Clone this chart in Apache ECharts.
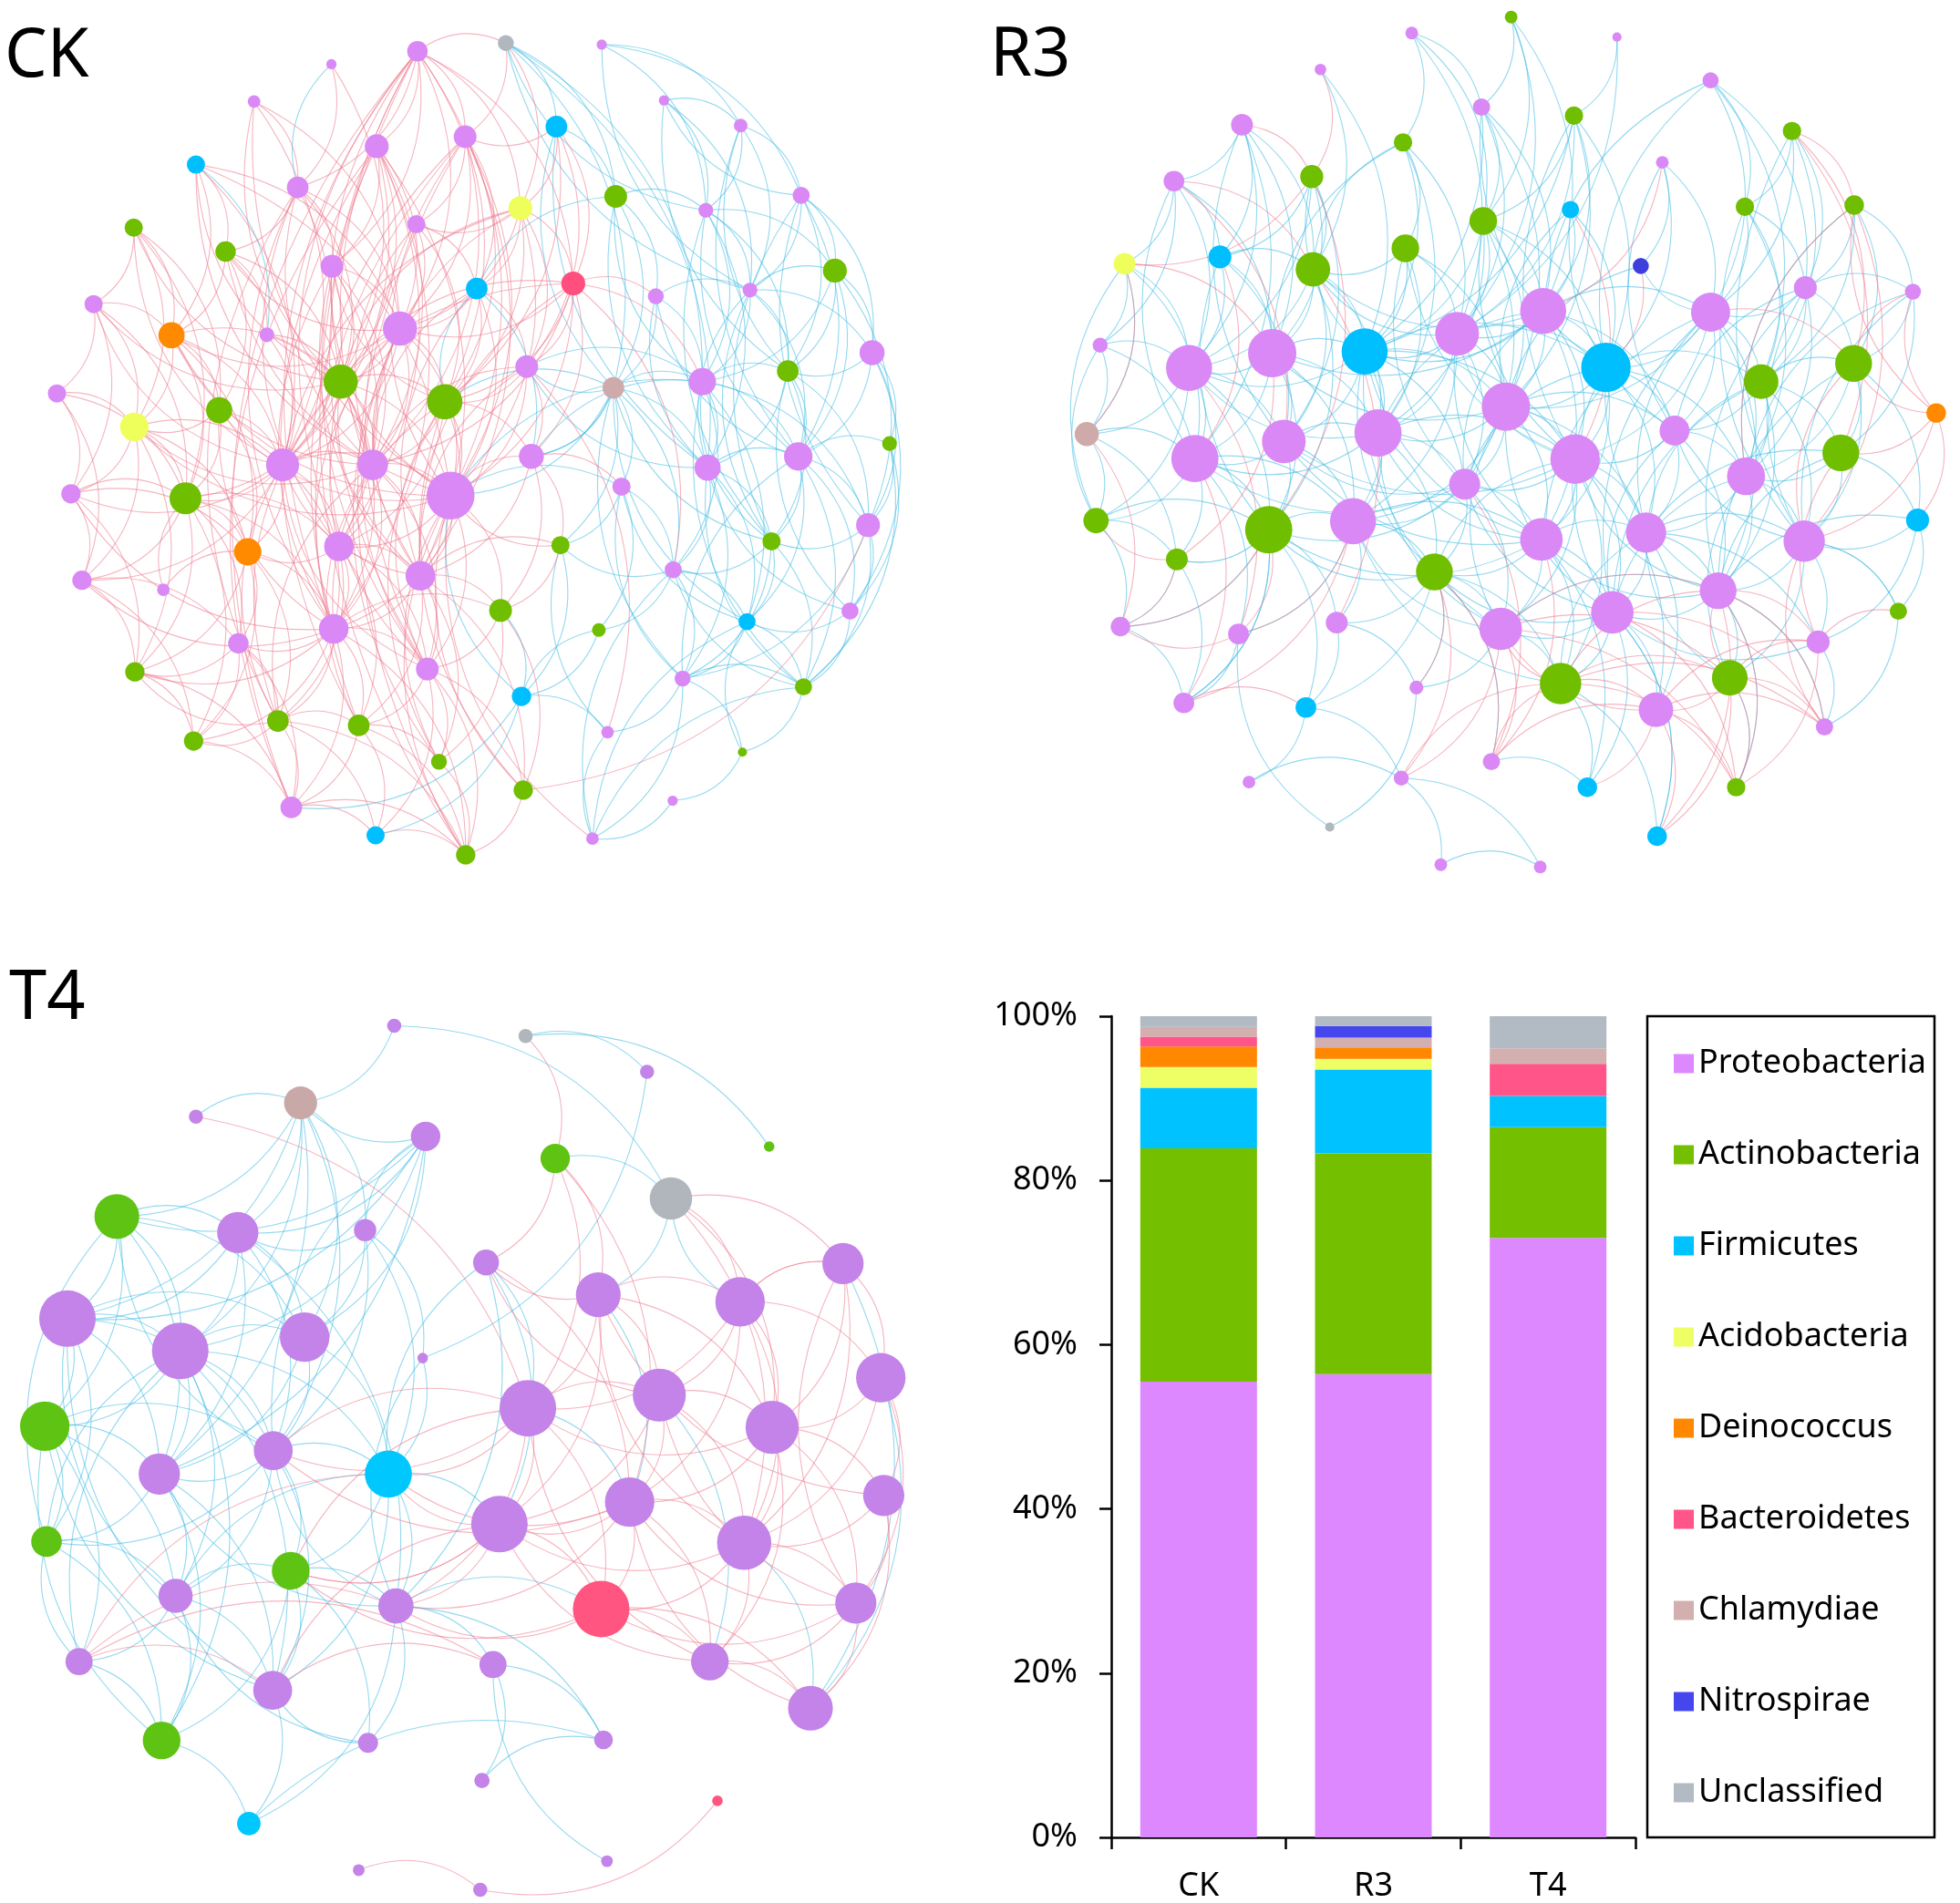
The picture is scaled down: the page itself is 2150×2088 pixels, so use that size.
<!DOCTYPE html>
<html>
<head>
<meta charset="utf-8">
<script src="https://cdn.jsdelivr.net/npm/echarts@6/dist/echarts.min.js"></script>
<style>
html,body{margin:0;padding:0;background:#fff;}
#chart{width:2150px;height:2088px;}
</style>
</head>
<body>
<div id="chart"></div>
<script>
// ---------------- Bar chart data ----------------
const categories = ['CK', 'R3', 'T4'];
const phyla = ['Proteobacteria','Actinobacteria','Firmicutes','Acidobacteria','Deinococcus','Bacteroidetes','Chlamydiae','Nitrospirae','Unclassified'];
const proteobacteria = [55.5, 56.4, 73.0];
const actinobacteria = [28.4, 26.9, 13.5];
const firmicutes     = [7.4, 10.2, 3.8];
const acidobacteria  = [2.5, 1.3, 0];
const deinococcus    = [2.5, 1.4, 0];
const bacteroidetes  = [1.2, 0, 3.9];
const chlamydiae     = [1.2, 1.2, 1.9];
const nitrospirae    = [0, 1.4, 0];
const unclassified   = [1.3, 1.2, 3.9];
const yTicks = [0, 20, 40, 60, 80, 100];

// ---------------- Network CK (layout coordinates) ----------------
const ckX = [718,870,570,1035,437,1142,957,648,800,1274,337,512,1059,895,716,1214,1378,230,388,571,820,986,1128,1290,1436,161,295,459,688,906,1500,586,765,1055,1208,1355,98,377,231,486,641,775,914,1217,1373,1530,122,319,1069,1493,583,426,964,1327,141,281,723,1158,861,1030,1462,574,410,1285,232,735,1174,1382,897,478,617,333,1045,755,1277,900,501,1157,646,1019,801];
const ckY = [92,77,115,80,182,180,227,262,245,225,295,336,352,373,402,377,350,408,451,477,517,508,531,520,485,545,601,600,589,657,632,684,720,695,684,665,705,735,765,833,833,888,818,838,818,795,885,893,872,941,979,989,977,970,1040,1057,1032,1021,1094,1129,1095,1127,1153,1114,1204,1199,1216,1231,1248,1292,1300,1328,1312,1365,1348,1416,1447,1435,1497,1503,1532];
const ckDegree = [18,14,9,9,11,9,19,21,20,12,16,19,20,21,16,13,15,16,18,20,19,21,14,13,21,16,23,13,30,20,22,30,31,19,24,19,16,23,25,29,27,42,22,23,25,13,17,28,16,21,26,24,16,16,17,11,26,15,20,12,15,26,18,15,17,20,14,15,17,19,19,17,11,14,8,17,19,9,16,11,17];
const ckPhylum = 'PUPPPPFPPPFPAYPPPAAPFBPPAPDPPPPAACPAPAYPPPPPPAPAPPPDAAPPPPAAPPPFAPPAFAAAPAAAPPFPA'.split('');
const ckPositive = '1-8 1-9 1-12 1-20 1-29 1-33 1-42 1-22 1-14 1-2 2-9 2-14 3-12 3-32 5-12 5-29 5-40 7-14 7-22 7-30 7-9 7-33 8-20 8-29 8-32 8-41 8-40 8-62 8-57 8-51 9-15 9-21 9-29 9-33 9-42 9-41 9-57 11-19 11-27 11-40 11-29 11-42 12-20 12-29 12-40 12-32 12-19 14-21 14-22 14-29 14-33 14-42 14-30 14-15 15-21 15-29 15-33 18-26 18-27 18-39 18-38 18-48 19-27 19-38 19-40 19-28 19-32 20-29 20-32 20-40 20-41 20-51 21-29 21-33 21-42 21-30 22-29 22-30 22-33 22-42 22-43 22-41 22-35 22-58 22-23 26-27 26-37 26-39 26-48 26-47 27-38 27-39 27-40 27-48 27-32 27-52 28-40 28-32 28-41 29-32 29-33 29-41 29-42 29-40 30-33 30-42 30-43 32-40 32-41 32-42 32-33 32-51 32-48 32-62 33-41 33-42 33-43 33-57 33-51 37-39 37-47 37-48 37-55 38-40 38-48 38-39 38-52 39-48 39-47 39-55 39-40 39-52 39-65 40-41 40-48 40-51 40-52 40-62 40-42 41-42 41-51 41-57 41-62 41-66 42-57 42-43 42-51 42-62 42-66 42-59 43-57 43-59 43-53 47-48 47-55 47-65 47-52 48-52 48-55 48-62 48-63 48-65 48-72 48-51 51-62 51-57 51-52 51-66 51-70 51-71 52-62 52-63 52-65 52-72 52-70 55-65 55-72 55-63 56-52 56-48 57-62 57-66 57-59 57-74 57-76 57-71 59-66 59-76 59-74 62-63 62-70 62-71 62-77 62-66 62-81 63-65 63-72 63-70 63-77 65-72 65-77 66-71 66-74 66-81 66-76 66-79 70-77 70-79 70-71 70-81 71-79 71-81 71-74 71-77 72-77 74-81 76-81 77-79 77-81 79-81 53-59 53-42 30-73 43-49 80-42 50-76 ' +
  '41-1 51-1 57-1 62-1 66-1 77-1 81-1 66-8 71-8 77-8 62-9 66-9 71-9 81-9 41-12 51-12 62-12 70-12 62-20 57-20 42-20 33-20 51-29 57-29 62-29 66-29 74-29 57-32 66-32 70-32 62-33 66-33 74-33 76-33 57-40 66-40 70-40 70-41 71-41 74-42 76-42 81-42 41-27 42-27 29-27 40-26 32-26 40-18 32-18 29-19 42-19 41-39 42-39 42-38 62-38 40-47 62-47 40-55 62-55 62-65 70-65 62-72 70-72 41-14 40-14 32-14 32-22 40-22 57-22 57-30 41-30 32-11 41-11 32-5 42-5 42-15 41-15 41-21 57-21 57-53 62-59';
const ckNegative = '2-35 2-44 2-34 2-13 2-7 4-10 4-17 4-16 6-10 6-24 6-16 10-17 10-16 10-24 13-34 13-16 13-23 16-24 16-35 16-44 16-36 16-25 17-25 17-24 17-31 17-36 17-45 23-34 23-35 23-24 24-36 24-35 24-25 24-31 24-45 25-31 25-36 25-45 25-50 25-35 31-46 31-50 31-45 31-36 31-61 34-35 34-44 34-49 34-30 34-43 34-58 34-53 34-42 35-36 35-44 35-45 35-58 35-64 35-50 36-45 36-44 36-50 36-54 44-45 44-58 44-64 44-54 44-67 45-50 45-54 45-61 45-64 45-68 45-46 46-50 46-61 46-68 49-58 49-60 49-53 50-54 50-61 50-68 50-67 54-58 54-64 54-68 54-67 58-67 58-64 61-68 61-64 64-67 64-68 67-68 67-75 67-80 68-75 75-78 78-80 80-68 69-79 69-73 69-77 69-60 69-42 21-43 21-13 7-13 12-3 11-28 42-49 42-35 33-34 43-35 30-35 53-69 60-69 59-69 73-53 33-21 ' +
  '35-13 44-13 34-7 44-7 44-23 45-23 45-16 54-16 54-17 50-17 54-24 44-24 36-10 45-10 17-6 36-6 24-4 54-34 64-34 67-34 54-35 68-35 61-36 61-44 68-44 67-45 68-58 80-58 75-64 80-64 64-49 67-49 58-53 58-60 67-73 80-73 34-43 44-30 24-2 16-2';

// ---------------- Network R3 ----------------
const r3X = [625,796,978,468,1139,745,904,333,610,1279,216,453,1056,898,1198,1386,748,614,131,295,455,1019,1302,1487,851,1139,703,89,385,544,242,959,1226,1385,1527,787,66,405,567,1077,252,906,1363,716,1200,82,379,524,1495,848,1028,1300,221,664,1152,970,778,124,327,496,1462,1324,881,1172,233,633,443,1045,1335,762,345,607,927,1183,484,1047,675,846];
const r3Y = [58,30,65,122,141,188,203,219,250,230,318,310,285,368,363,360,388,436,463,451,473,467,505,512,546,548,586,606,620,617,646,645,670,638,725,714,762,775,760,756,805,806,795,850,836,914,930,915,913,947,935,950,982,1004,1037,1075,1104,1100,1113,1093,1073,1127,1200,1190,1234,1207,1242,1246,1276,1337,1373,1366,1382,1382,1452,1468,1518,1522];
const r3Degree = [11,11,8,10,14,15,16,19,16,16,18,20,11,15,16,17,24,24,19,20,30,14,20,14,40,34,38,13,42,40,40,43,30,32,17,42,21,38,41,26,41,43,32,27,33,22,41,40,20,37,35,36,19,32,32,37,37,17,18,19,15,20,36,31,18,12,18,30,15,15,11,13,17,16,8,17,11,11];
const r3Phylum = 'PAPPPPAPAAPAPFAAAAYFANPPPPPPPFPFAADPCPPPPPAPPAAPFPPPAAPPPPPPAPAAPPFPPPPPFAUFPP'.split('');
const r3Positive = '4-12 8-12 11-21 12-19 20-41 19-37 35-34 35-43 35-24 35-52 35-49 35-16 10-34 10-43 16-52 47-59 47-58 53-58 31-59 41-65 63-68 63-64 63-74 63-57 63-55 64-68 64-74 64-62 64-76 64-55 68-74 68-76 68-69 68-62 68-57 57-72 57-70 57-55 57-64 55-62 55-69 55-74 69-52 62-43 70-63 70-68 72-63 54-72 54-66 48-59 48-65 22-32 14-42 13-25 45-16 26-34 59-58 53-46 65-67 19-29 11-38 37-58 29-53 21-60 62-61 ' +
  '63-69 56-74 56-69 57-74 55-76 68-73 50-70 54-70 44-70 62-74 64-69 10-16 34-24 52-34 12-47';
const r3Negative = '1-6 1-9 1-17 1-27 2-6 2-27 2-17 2-25 3-27 3-7 4-21 4-30 5-23 5-26 5-33 5-15 6-17 6-25 6-27 6-30 6-36 7-17 7-25 7-36 7-30 7-27 7-32 8-11 8-20 8-21 8-29 8-31 8-41 9-18 9-27 9-30 9-39 10-23 10-33 10-26 10-15 11-20 11-31 11-28 11-29 11-19 12-21 12-20 12-29 12-31 12-38 13-26 13-22 13-32 14-32 14-25 15-26 15-33 15-23 15-45 16-23 16-34 16-33 16-24 17-25 17-27 17-30 17-36 17-39 17-32 18-27 18-30 18-39 18-21 18-36 19-31 19-28 19-41 19-37 20-29 20-31 20-21 20-38 21-29 21-30 21-38 21-39 21-31 21-47 23-33 23-34 23-26 23-45 23-24 24-34 24-43 25-27 25-32 25-36 25-42 25-26 25-40 25-30 26-32 26-33 26-40 26-45 26-36 26-42 27-30 27-36 27-39 27-44 27-32 28-31 28-37 28-41 29-31 29-30 29-38 29-41 29-39 29-47 29-48 30-36 30-39 30-38 30-48 30-44 30-32 30-42 31-41 31-37 31-38 31-46 31-47 32-36 32-42 32-40 32-33 32-45 32-51 32-50 33-34 33-40 33-45 33-43 33-52 34-43 34-45 34-52 36-42 36-39 36-44 36-50 36-40 36-48 36-51 37-46 37-41 37-53 38-39 38-41 38-47 38-48 39-44 39-48 39-42 39-54 40-42 40-45 40-51 40-55 41-47 41-46 41-53 41-48 41-59 42-50 42-51 42-44 42-56 42-57 42-63 43-45 43-52 43-49 44-50 44-54 44-48 44-57 45-52 45-55 45-51 46-53 46-58 46-47 47-48 47-53 47-60 47-65 47-67 48-54 48-50 48-60 49-52 49-61 49-62 50-51 50-56 50-57 50-54 50-63 51-56 51-55 51-52 51-68 52-55 52-62 52-64 52-61 53-58 53-65 54-57 54-63 54-66 55-56 55-64 56-57 56-63 56-68 57-63 58-65 59-65 60-66 60-67 62-69 61-69 63-73 63-76 64-74 67-71 67-72 71-72 72-77 72-78 77-78 66-75 70-73 75-59 56-76 50-73 42-68 27-48 25-50 17-44 26-55 33-55 34-49 ' +
  '25-21 27-21 25-29 36-29 30-31 39-31 42-38 44-38 50-38 39-41 44-41 44-47 54-47 50-47 44-25 39-25 42-27 50-27 44-32 56-32 55-32 56-36 57-36 50-26 51-26 56-26 56-40 52-40 40-23 52-23 55-23 51-33 56-33 55-34 55-43 51-43 56-45 64-45 52-24 45-24 45-16 42-17 42-18 44-18 50-30 54-30 57-30 50-39 57-39 54-42 55-42 56-44 57-48 63-48 56-54 55-50 63-51 64-51 57-55 62-56 32-5 25-5 32-6 42-7 21-9 29-9 30-12 36-14 40-14 36-22 26-22 40-13 52-10 52-15 38-8 41-11 47-20 46-28 46-19 47-53 54-60 48-59 47-58 47-65 54-67 57-66 54-70 56-73 56-76 55-74 55-69 51-62 55-49 52-61';

// ---------------- Network T4 ----------------
const t4X = [678,904,1113,517,337,732,1323,955,1154,201,409,628,836,1450,1029,1273,116,310,524,727,1515,908,1134,77,1328,470,274,668,1083,1520,859,1280,80,500,302,681,1034,1472,136,848,1221,469,1394,278,633,1038,829,1234,428,1044,617,826];
const t4Y = [100,117,177,229,252,285,302,322,389,419,446,442,496,498,550,562,590,644,621,656,689,740,718,770,772,811,850,850,897,886,934,965,963,1012,1054,1071,1076,1066,1164,1169,1164,1212,1242,1296,1300,1295,1363,1397,1435,1498,1513,1546];
const t4Degree = [12,12,12,28,12,25,9,25,36,38,35,19,22,35,38,42,48,48,42,9,42,48,45,42,45,33,35,40,42,35,48,46,26,32,29,30,48,35,23,23,32,33,38,32,17,16,13,9,20,10,10,12];
const t4Phylum = 'PUPCPPAAUAPPPPPPPPPPPPPAPPPFPPPPAAPPBPPPPPPAPPPBFPPP'.split('');
const t4Positive = '2-8 5-22 8-13 8-22 8-15 8-29 9-16 9-14 9-25 9-32 13-29 15-22 15-23 15-16 15-25 15-31 16-14 16-23 16-25 16-21 16-32 16-29 14-21 14-25 14-32 21-25 21-30 21-32 21-38 22-23 22-31 22-37 22-28 22-26 23-25 23-29 23-32 23-31 25-29 25-30 25-32 25-38 25-41 29-31 29-32 29-37 29-41 30-32 30-38 30-43 31-37 31-36 31-34 31-28 32-37 32-38 32-41 37-41 37-43 37-36 38-43 41-43 39-36 39-40 39-42 42-40 48-52 51-52 26-22 42-31 39-28 34-22 ' +
  '16-14 38-14 16-22 25-22 38-23 38-29 43-29 41-31 32-31 29-36 22-36 15-13 23-13 32-15 30-15 41-22 29-28 29-26 31-34 37-34 38-37 38-41';
const t4Negative = '1-9 1-4 2-3 2-7 3-20 4-10 4-11 4-17 4-18 4-19 4-26 4-27 4-12 6-10 6-11 6-17 6-18 6-19 6-27 8-9 9-15 10-17 10-18 10-11 10-24 10-27 10-19 11-17 11-18 11-19 11-26 11-27 12-28 12-26 12-20 13-22 13-31 13-36 17-18 17-24 17-27 17-33 17-26 17-19 18-19 18-24 18-26 18-27 18-35 18-44 18-42 18-28 19-26 19-27 19-28 24-27 24-33 24-35 24-26 24-39 26-27 26-28 26-34 26-35 26-42 26-33 27-33 27-35 27-44 27-42 28-36 28-34 28-42 28-31 33-44 33-35 35-44 35-42 34-44 34-45 34-36 34-42 36-40 36-46 36-45 36-37 36-49 39-44 42-49 44-49 49-46 40-46 40-47 47-46 50-40 14-43 21-43 32-43 23-41 16-9 15-29 22-29 20-28 11-36 5-4 ' +
  '26-10 33-10 35-17 42-17 33-18 39-18 44-24 42-24 39-33 35-39 6-4 26-6 12-6 12-11 12-19 36-26 36-27 35-34 35-28 45-42 45-35 28-13 36-20';

// ---------------- Styles ----------------
const FONT = 'Noto Sans';
const barColors = ['#DD88FF','#74BF00','#00C2FF','#EEFF66','#FF8800','#FF5588','#D4AFAF','#4646EE','#B2BAC3'];
const paletteA = {P:'#DA88F5', A:'#70BE00', F:'#00BFFF', Y:'#EEFF5C', D:'#FF8A00', B:'#FF4F7E', C:'#CFAAAA', N:'#3E3EDD', U:'#B0B7BF'};
const paletteT4 = Object.assign({}, paletteA, {P:'#C383E8', A:'#5FC314', F:'#00C8FF', B:'#FF5580', C:'#C9A8A8', U:'#B0B6BC'});
const redEdge = 'rgba(236,120,140,0.55)';
const blueEdge = 'rgba(60,185,225,0.55)';

function buildNet(X, Y, D, T, pos, neg, scale, palette) {
  const nodes = X.map((x, i) => ({
    name: String(i + 1),
    value: [x, Y[i]],
    symbolSize: 2 * D[i] / scale,
    itemStyle: { color: palette[T[i]] }
  }));
  const links = [];
  const add = (s, color) => s.trim().split(/\s+/).forEach(p => {
    const ab = p.split('-').map(Number);
    links.push({ source: ab[0] - 1, target: ab[1] - 1, lineStyle: { color: color } });
  });
  add(neg, blueEdge);
  add(pos, redEdge);
  return { nodes, links };
}

const nets = [
  buildNet(ckX, ckY, ckDegree, ckPhylum, ckPositive, ckNegative, 1.60, paletteA),
  buildNet(r3X, r3Y, r3Degree, r3Phylum, r3Positive, r3Negative, 1.584, paletteA),
  buildNet(t4X, t4Y, t4Degree, t4Phylum, t4Positive, t4Negative, 1.547, paletteT4)
];
const netGrids = [
  { left: 0, top: 0, width: 1000, height: 960, xmax: 1568, ymax: 1568 },
  { left: 1150, top: 0, width: 1000, height: 980, xmax: 1568, ymax: 1568 },
  { left: 0, top: 1060, width: 1000, height: 1028, xmax: 1568, ymax: 1568 }
];

const grid = netGrids.map(g => ({ left: g.left, top: g.top, width: g.width, height: g.height }));
grid.push({ left: 1219, top: 1115, width: 575, height: 902 });

const xAxis = netGrids.map((g, i) => ({ type: 'value', gridIndex: i, min: 0, max: g.xmax, show: false }));
const yAxis = netGrids.map((g, i) => ({ type: 'value', gridIndex: i, min: 0, max: g.ymax, inverse: true, show: false }));

xAxis.push({
  type: 'category', gridIndex: 3, data: categories,
  axisLine: { lineStyle: { color: '#000', width: 2.5 } },
  axisTick: { show: true, length: 13, lineStyle: { color: '#000', width: 2.5 } },
  axisLabel: { color: '#000', fontSize: 36, fontFamily: FONT, margin: 36 }
});
yAxis.push({
  type: 'value', gridIndex: 3, min: yTicks[0], max: yTicks[yTicks.length - 1], interval: 20,
  axisLine: { show: true, lineStyle: { color: '#000', width: 2.5 } },
  axisTick: { show: true, length: 13, lineStyle: { color: '#000', width: 2.5 } },
  splitLine: { show: false },
  axisLabel: { color: '#000', fontSize: 36, fontFamily: FONT, margin: 37, formatter: '{value}%' }
});

const series = nets.map((n, i) => ({
  type: 'graph', coordinateSystem: 'cartesian2d', xAxisIndex: i, yAxisIndex: i,
  data: n.nodes, links: n.links, silent: true, animation: false,
  edgeSymbol: ['none', 'none'],
  lineStyle: { width: 1.1, curveness: 0.3, opacity: 1 },
  label: { show: false },
  emphasis: { disabled: true }
}));

const barValues = [proteobacteria, actinobacteria, firmicutes, acidobacteria, deinococcus, bacteroidetes, chlamydiae, nitrospirae, unclassified];
phyla.forEach((name, i) => {
  series.push({
    type: 'bar', name: name, stack: 'total', xAxisIndex: 3, yAxisIndex: 3,
    data: barValues[i], barWidth: 128, itemStyle: { color: barColors[i] },
    animation: false, emphasis: { disabled: true }
  });
});

const titleText = (t, x, y) => ({
  type: 'text', x: x, y: y,
  style: { text: t, fontSize: 74, fontFamily: FONT, fill: '#000', align: 'left', verticalAlign: 'middle' }
});

const option = {
  backgroundColor: '#fff',
  animation: false,
  grid: grid,
  xAxis: xAxis,
  yAxis: yAxis,
  legend: {
    data: phyla, orient: 'vertical', left: 1831, top: 1144,
    icon: 'rect', itemWidth: 22, itemHeight: 21, itemGap: 64,
    textStyle: { fontSize: 36, fontFamily: FONT, color: '#000' },
    selectedMode: false
  },
  graphic: [
    titleText('CK', 5, 63),
    titleText('R3', 1086, 62),
    titleText('T4', 10, 1097),
    { type: 'rect', shape: { x: 1807, y: 1115, width: 315, height: 901 },
      style: { fill: 'none', stroke: '#000', lineWidth: 2.5 } }
  ],
  series: series
};

const chart = echarts.init(document.getElementById('chart'));
chart.setOption(option);
</script>
</body>
</html>
